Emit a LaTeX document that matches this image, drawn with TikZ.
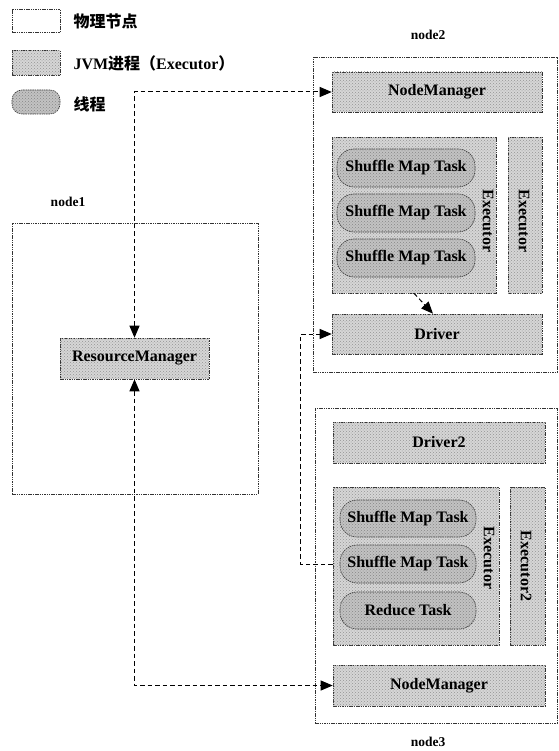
\documentclass[tikz,border=0pt]{standalone}
\usepackage{fontspec}
\setmainfont{Liberation Serif}
\newfontfamily\cjk{Noto Sans CJK SC}
\usetikzlibrary{arrows.meta,patterns}
\begin{document}
\begin{tikzpicture}[x=1pt,y=-1pt,
  txt/.style={font=\fontsize{16}{18}\selectfont\bfseries},
  lbl/.style={font=\fontsize{13.5}{15}\selectfont\bfseries},
  physbox/.style={draw=black!80, dash pattern=on 1.5pt off 0.8pt, line width=0.6pt, fill=white, inner sep=0pt},
  jvmbox/.style={physbox, fill=gray!32, postaction={pattern=crosshatch dots, pattern color=gray!85}},
  thrbox/.style={physbox, fill=gray!48, rounded corners=17pt, postaction={pattern=crosshatch dots, pattern color=gray!95}},
  conn/.style={line width=1pt, dash pattern=on 4.5pt off 3pt},
  tip/.style={-{Triangle[length=12pt,width=10pt]}},
  tips/.style={{Triangle[length=12pt,width=10pt]}-{Triangle[length=12pt,width=10pt]}}
]
\useasboundingbox (0,0) rectangle (558,751);

% legend
\node[physbox, minimum width=48pt, minimum height=23pt] (lg1) at (36,21) {};
\node[anchor=west, font=\cjk\fontsize{16}{18}\selectfont\bfseries] (lt1) at (70,21) {物理节点};
\node[jvmbox, minimum width=48pt, minimum height=25pt] (lg2) at (36,63) {};
\node[anchor=west, font=\fontsize{16}{18}\selectfont\bfseries] (lt2) at (70,63) {JVM{\cjk 进程（}Executor{\cjk ）}};
\node[thrbox, rounded corners=10pt, minimum width=48pt, minimum height=24pt] (lg3) at (36,102) {};
\node[anchor=west, font=\cjk\fontsize{16}{18}\selectfont\bfseries] (lt3) at (70,104) {线程};

% node1
\node[lbl] (n1l) at (68,202) {node1};
\node[physbox, minimum width=246pt, minimum height=271pt] (node1) at (135,358.5) {};
\node[jvmbox, txt, minimum width=149pt, minimum height=41pt] (rm) at (134.5,358.5) {ResourceManager};

% node2
\node[lbl] (n2l) at (428,35) {node2};
\node[physbox, minimum width=244pt, minimum height=315pt] (node2) at (435,214.5) {};
\node[jvmbox, txt, minimum width=210pt, minimum height=40pt] (nm2) at (437,92) {NodeManager};
\node[jvmbox, minimum width=164pt, minimum height=156pt] (ex2a) at (414,215) {};
\node[jvmbox, minimum width=34pt, minimum height=156pt] (ex2b) at (525,215) {};
\node[thrbox, txt, minimum width=138pt, minimum height=38pt] (t1) at (406,168) {Shuffle Map Task};
\node[thrbox, txt, minimum width=138pt, minimum height=38pt] (t2) at (406,213) {Shuffle Map Task};
\node[thrbox, txt, minimum width=138pt, minimum height=38pt] (t3) at (406,258) {Shuffle Map Task};
\node[txt, rotate=-90] (ex2al) at (488,221) {Executor};
\node[txt, rotate=-90] (ex2bl) at (524,221) {Executor};
\node[jvmbox, txt, minimum width=210pt, minimum height=40pt] (drv) at (437,334) {Driver};

% node3
\node[physbox, minimum width=242pt, minimum height=315pt] (node3) at (436,565.5) {};
\node[lbl] (n3l) at (428,742) {node3};
\node[jvmbox, txt, minimum width=212pt, minimum height=41pt] (drv2) at (439,442.5) {Driver2};
\node[jvmbox, minimum width=166pt, minimum height=158pt] (ex3a) at (416,566) {};
\node[jvmbox, minimum width=35pt, minimum height=158pt] (ex3b) at (527.5,566) {};
\node[thrbox, txt, minimum width=136pt, minimum height=37pt] (t4) at (408,518.5) {Shuffle Map Task};
\node[thrbox, txt, minimum width=136pt, minimum height=38pt] (t5) at (408,564) {Shuffle Map Task};
\node[thrbox, txt, minimum width=136pt, minimum height=37pt] (t6) at (408,610.5) {Reduce Task};
\node[txt, rotate=-90] (ex3al) at (489,558) {Executor};
\node[txt, rotate=-90] (ex3bl) at (526,566) {Executor2};
\node[jvmbox, txt, minimum width=212pt, minimum height=41pt] (nm3) at (439,685.5) {NodeManager};

% connectors
\draw[conn, tips] (rm.north) |- (nm2.west);
\draw[conn, tips] (rm.south) |- (nm3.west);
\draw[conn, tip] (ex3a.west |- t5.west) -- ++(-32,0) |- (drv.west);
\draw[conn, tip] (ex2a.south) -- ([xshift=-4pt]drv.north);
\end{tikzpicture}
\end{document}
